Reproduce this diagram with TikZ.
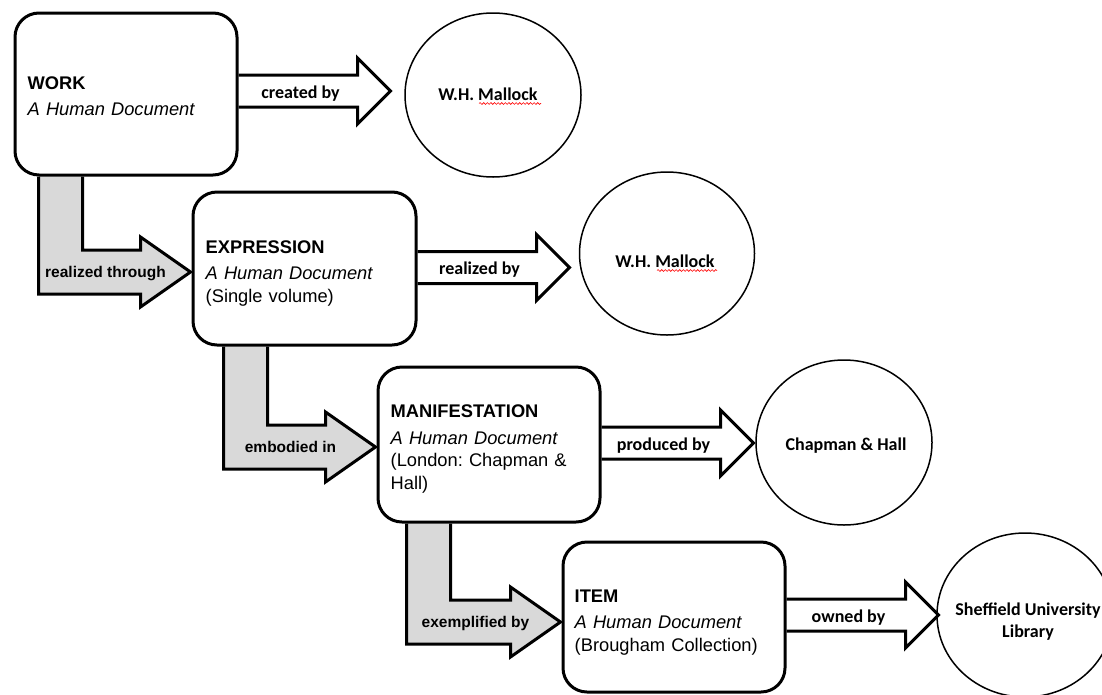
\documentclass[tikz,border=0pt]{standalone}
\usepackage{fontspec}
\setmainfont{Liberation Sans}
\newfontfamily\calfont{Carlito}
\usetikzlibrary{calc,shapes.geometric,decorations.pathmorphing}
\pgfdeclarelayer{bg}
\pgfsetlayers{bg,main}
\definecolor{arrowgrey}{HTML}{D9D9D9}
\tikzset{
  entity/.style={draw, line width=3pt, rounded corners=24pt, fill=white,
    minimum width=222pt, inner sep=0pt},
  etext/.style={text width=200pt, inner sep=0pt, align=left, anchor=base west,
    font=\frenchspacing\fontsize{18.3}{22.5}\selectfont},
  agent/.style={ellipse, draw, line width=1.5pt, inner sep=0pt,
    minimum width=176pt, minimum height=164pt},
  ctext/.style={font=\calfont\bfseries\fontsize{18}{21.5}\selectfont, align=center, inner sep=0pt},
  warrow/.style={draw, line width=3pt, fill=white, line join=miter},
  garrow/.style={draw, line width=3pt, fill=arrowgrey, line join=miter},
  wlabel/.style={font=\calfont\bfseries\fontsize{18}{21}\selectfont, inner sep=0pt},
  glabel/.style={font=\bfseries\fontsize{15.5}{18}\selectfont, inner sep=0pt},
  spell/.style={draw=red, line width=0.6pt, decorate,
    decoration={snake, amplitude=0.9pt, segment length=3.6pt}}
}
% white block arrow: #1 box, #2 dy, #3 label name, #4 text
\newcommand\wharrow[4]{%
  \coordinate (ws) at ($(#1.east)+(0,#2)$);
  \begin{pgfonlayer}{bg}
    \draw[warrow] ($(ws)+(0,-16)$) -- ++(119,0) -- ++(0,-17) -- ++(33,33)
      -- ++(-33,33) -- ++(0,-17) -- ++(-119,0);
  \end{pgfonlayer}
  \node[wlabel, anchor=base] (#3) at ($(ws)+(62,7)$) {#4};
}
% grey L arrow: #1 upper box, #2 lower box, #3 shaft x offset, #4 tip dy, #5 label name, #6 text
\newcommand\grarrow[6]{%
  \coordinate (gt) at ($(#2.west)+(-1,#4)$);
  \begin{pgfonlayer}{bg}
    \draw[garrow] ($(#1.south west)+(#3,0)$) |- ($(gt)+(-50,22)$) -- ++(0,13)
      -- (gt) -- ($(gt)+(-50,-35)$) -- ++(0,13) -| ($(#1.south west)+(#3+44,0)$);
  \end{pgfonlayer}
  \node[glabel, anchor=base] (#5) at ($(gt)+(-85,5.5)$) {#6};
}
\begin{document}
\begin{tikzpicture}[x=1pt, y=-1pt]
\useasboundingbox (0,0) rectangle (1102,694);
\clip (0,0) rectangle (1102,694);

% entity boxes
\node[entity, minimum height=162pt] (work) at (126,94) {};
\node[entity, minimum width=223pt, minimum height=153pt] (expr) at (304.5,268.5) {};
\node[entity, minimum height=155pt] (manif) at (489,444.5) {};
\node[entity, minimum height=150pt] (item) at (674,617) {};

\node[etext] (workt) at ($(work.north west)+(14,77.5)$)
  {\textbf{WORK}\\[4pt]\textit{A Human Document}};
\node[etext] (exprt) at ($(expr.north west)+(14,62.5)$)
  {\textbf{EXPRESSION}\\[4pt]\textit{A Human Document}\\(Single volume)};
\node[etext] (manift) at ($(manif.north west)+(14,52.3)$)
  {\textbf{MANIFESTATION}\\[4pt]\textit{A Human Document}\\(London: Chapman \&\\Hall)};
\node[etext] (itemt) at ($(item.north west)+(13,61.7)$)
  {\textbf{ITEM}\\[4pt]\textit{A Human Document}\\(Brougham Collection)};

% agents
\node[agent] (c1) at (493,95) {};
\node[agent, minimum width=175pt, minimum height=163pt] (c2) at (667,253.5) {};
\node[agent, minimum height=165pt] (c3) at (844,442.5) {};
\node[agent] (c4) at (1025,615) {};

\node[ctext, anchor=base] (t1) at (488,100) {W.H. Mallock};
\node[ctext, anchor=base] (t2) at (665,267) {W.H. Mallock};
\node[ctext, anchor=base] (t3) at (846,450) {Chapman \& Hall};
\node[ctext, anchor=base] (t4) at (1028,637) {Sheffield University\\Library};

\draw[spell] ($(t1.base)+(-9,3.5)$) -- ($(t1.base)+(53,3.5)$);
\draw[spell] ($(t2.base)+(-8,3.5)$) -- ($(t2.base)+(52,3.5)$);

% white arrows
\wharrow{work}{-3}{l1}{created by}
\wharrow{expr}{-1}{l2}{realized by}
\wharrow{manif}{-1.5}{l3}{produced by}
\wharrow{item}{-2}{l4}{owned by}

% grey arrows
\grarrow{work}{expr}{25}{3.5}{g1}{realized through}
\grarrow{expr}{manif}{32}{2.5}{g2}{embodied in}
\grarrow{manif}{item}{30}{5}{g3}{exemplified by}
\end{tikzpicture}
\end{document}
